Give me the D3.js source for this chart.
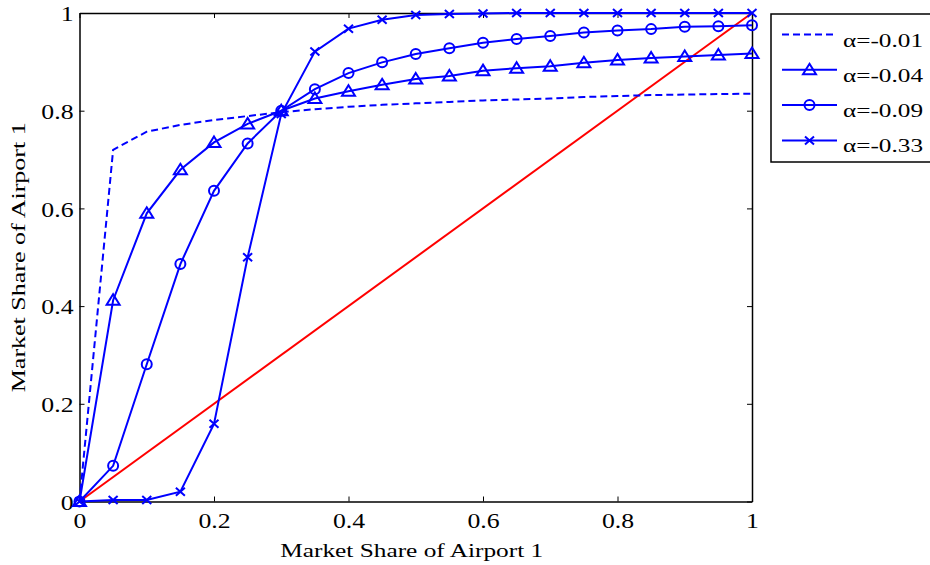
<!DOCTYPE html>
<html>
<head>
<meta charset="utf-8">
<script src="https://cdn.jsdelivr.net/npm/d3@7"></script>
<style>
  body { margin: 0; background: #fff; }
  svg { display: block; font-family: "Liberation Serif", "DejaVu Serif", serif; }
</style>
</head>
<body>
<div id="chart"></div>
<script>
// data
const shares = [0, 0.05, 0.1, 0.15, 0.2, 0.25, 0.3, 0.35, 0.4, 0.45, 0.5,
  0.55, 0.6, 0.65, 0.7, 0.75, 0.8, 0.85, 0.9, 0.95, 1];
const alpha001 = [0, 0.72, 0.757, 0.771, 0.781, 0.789, 0.797, 0.803, 0.808, 0.812, 0.815,
  0.818, 0.821, 0.823, 0.825, 0.828, 0.83, 0.832, 0.833, 0.834, 0.835];
const alpha004 = [0, 0.412, 0.59, 0.679, 0.735, 0.773, 0.8, 0.825, 0.84, 0.853, 0.865,
  0.871, 0.882, 0.887, 0.891, 0.898, 0.904, 0.908, 0.911, 0.914, 0.917];
const alpha009 = [0, 0.073, 0.281, 0.486, 0.636, 0.733, 0.8, 0.844, 0.877, 0.899, 0.916,
  0.928, 0.939, 0.947, 0.953, 0.96, 0.964, 0.967, 0.972, 0.973, 0.975];
const alpha033 = [0, 0.003, 0.003, 0.02, 0.159, 0.5, 0.793, 0.921, 0.968, 0.986, 0.996,
  0.998, 0.999, 1, 1, 1, 1, 1, 1, 1, 1];
const diagonal = [0, 1];
const seriesNames = ["α=-0.01", "α=-0.04", "α=-0.09", "α=-0.33"];
const tickValues = [0, 0.2, 0.4, 0.6, 0.8, 1];
const tickLabels = ["0", "0.2", "0.4", "0.6", "0.8", "1"];

// the source picture is stretched sideways, so widen the glyphs a bit
function widen(sel, k) {
  sel.each(function () {
    const w = this.getComputedTextLength();
    d3.select(this).attr("textLength", w * k).attr("lengthAdjust", "spacingAndGlyphs");
  });
}

function drawChart() {
  const margin = { top: 13, right: 178, bottom: 63.5, left: 79.5 },
    width = 930 - margin.left - margin.right,
    height = 565 - margin.top - margin.bottom;

  const svg = d3.select("#chart").append("svg")
    .attr("width", 930).attr("height", 565);
  const g = svg.append("g")
    .attr("transform", `translate(${margin.left},${margin.top})`);

  const x = d3.scaleLinear().domain([0, 1]).range([0, width]);
  const y = d3.scaleLinear().domain([0, 1]).range([height, 0]);

  const blue = "#0000ff";
  const series = [
    { name: seriesNames[0], values: alpha001, marker: "none", dash: "7,4" },
    { name: seriesNames[1], values: alpha004, marker: "triangle", dash: null },
    { name: seriesNames[2], values: alpha009, marker: "circle", dash: null },
    { name: seriesNames[3], values: alpha033, marker: "cross", dash: null },
  ];

  // axes (ticks inside, on all four sides)
  const fmt = (d) => tickLabels[tickValues.indexOf(d)];
  const bottom = g.append("g").attr("transform", `translate(0,${height})`)
    .call(d3.axisBottom(x).tickValues(tickValues).tickSizeInner(-5).tickSizeOuter(0).tickPadding(11).tickFormat(fmt));
  const left = g.append("g")
    .call(d3.axisLeft(y).tickValues(tickValues).tickSizeInner(-5).tickSizeOuter(0).tickPadding(6).tickFormat(fmt));
  const top = g.append("g")
    .call(d3.axisTop(x).tickValues(tickValues).tickSizeInner(-5).tickSizeOuter(0).tickFormat(""));
  const right = g.append("g").attr("transform", `translate(${width},0)`)
    .call(d3.axisRight(y).tickValues(tickValues).tickSizeInner(-5).tickSizeOuter(0).tickFormat(""));

  [bottom, left, top, right].forEach((a) => {
    a.selectAll("path").attr("stroke", "#000").attr("stroke-width", 1.5);
    a.selectAll("line").attr("stroke", "#000");
    a.selectAll("text").style("font-size", "22px").attr("fill", "#000")
      .style("font-family", "'Liberation Serif', serif");
  });
  bottom.selectAll("text").attr("dy", "0.71em");
  left.selectAll("text").attr("dy", "0.35em");
  widen(bottom.selectAll("text"), 1.17);
  widen(left.selectAll("text"), 1.17);

  // diagonal reference line
  g.append("line")
    .attr("x1", x(diagonal[0])).attr("y1", y(diagonal[0]))
    .attr("x2", x(diagonal[1])).attr("y2", y(diagonal[1]))
    .attr("stroke", "#ff0000").attr("stroke-width", 2);

  const line = d3.line().x((d, i) => x(shares[i])).y((d) => y(d));

  function drawMarker(sel, kind, cx, cy) {
    if (kind === "triangle") {
      sel.append("path")
        .attr("d", `M${cx},${cy - 6}L${cx + 6.5},${cy + 4.5}L${cx - 6.5},${cy + 4.5}Z`)
        .attr("fill", "none").attr("stroke", blue).attr("stroke-width", 2);
    } else if (kind === "circle") {
      sel.append("circle").attr("cx", cx).attr("cy", cy).attr("r", 5)
        .attr("fill", "none").attr("stroke", blue).attr("stroke-width", 2);
    } else if (kind === "cross") {
      sel.append("path")
        .attr("d", `M${cx - 4.5},${cy - 4}L${cx + 4.5},${cy + 4}M${cx - 4.5},${cy + 4}L${cx + 4.5},${cy - 4}`)
        .attr("fill", "none").attr("stroke", blue).attr("stroke-width", 2);
    }
  }

  series.forEach((s) => {
    g.append("path").datum(s.values)
      .attr("fill", "none").attr("stroke", blue).attr("stroke-width", 2)
      .attr("stroke-dasharray", s.dash).attr("d", line);
    if (s.marker !== "none") {
      const mg = g.append("g");
      s.values.forEach((v, i) => drawMarker(mg, s.marker, x(shares[i]), y(v)));
    }
  });

  // axis titles
  svg.append("text")
    .attr("x", margin.left + width / 2 - 4).attr("y", 557)
    .attr("text-anchor", "middle").style("font-size", "19px")
    .attr("textLength", 263).attr("lengthAdjust", "spacingAndGlyphs")
    .text("Market Share of Airport 1");
  svg.append("text")
    .attr("transform", `translate(25,${margin.top + height / 2}) rotate(-90)`)
    .attr("text-anchor", "middle").style("font-size", "19px")
    .attr("textLength", 270).attr("lengthAdjust", "spacingAndGlyphs")
    .text("Market Share of Airport 1");

  // legend
  const legend = svg.append("g").attr("transform", "translate(771,14)");
  legend.append("rect").attr("width", 170).attr("height", 148)
    .attr("fill", "#fff").attr("stroke", "#000").attr("stroke-width", 1.5);
  series.forEach((s, i) => {
    const ly = 20.5 + i * 35.3;
    legend.append("line").attr("x1", 11).attr("x2", 66).attr("y1", ly).attr("y2", ly)
      .attr("stroke", blue).attr("stroke-width", 2).attr("stroke-dasharray", s.dash);
    drawMarker(legend, s.marker, 38.5, ly);
    legend.append("text").attr("x", 72).attr("y", ly + 12)
      .style("font-size", "19px")
      .attr("textLength", 80).attr("lengthAdjust", "spacingAndGlyphs")
      .text(s.name);
  });
}

drawChart();
</script>
</body>
</html>
